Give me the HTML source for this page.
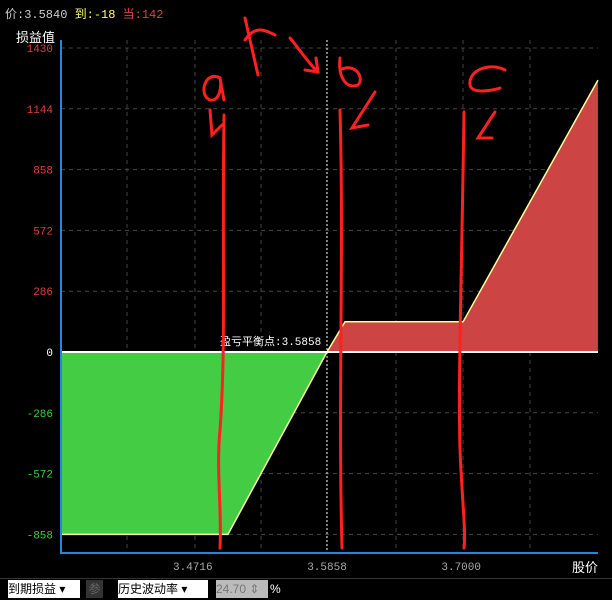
<!DOCTYPE html>
<html><head><meta charset="utf-8"><style>
body{margin:0;background:#000;width:612px;height:600px;overflow:hidden;font-family:"Liberation Mono","Noto Sans CJK SC",monospace;position:relative}
.t{position:absolute;font-size:12px;white-space:nowrap}
.ctl{position:absolute;top:580px;height:18px;font-size:12px;line-height:18px;font-family:"Liberation Sans","Noto Sans CJK SC",sans-serif}
</style></head><body>
<div class="t" style="left:5px;top:5px;color:#ccc">价:3.5840 <span style="color:#ffff66">到:-18</span> <span style="color:#e04040">当:142</span></div>
<div class="t" style="left:16px;top:27px;color:#fff;font-size:13px">损益值</div>
<div class="t" style="left:572px;top:557px;color:#fff;font-size:13px">股价</div>
<svg id="c" width="612" height="600" style="position:absolute;left:0;top:0"></svg>
<div style="position:absolute;left:0;top:578px;width:612px;height:1px;background:#333"></div>
<div class="ctl" style="left:8px;width:72px;background:#fff;color:#000">到期损益 ▾</div>
<div class="ctl" style="left:86px;width:17px;background:#333;color:#666;text-align:center">参</div>
<div class="ctl" style="left:118px;width:90px;background:#fff;color:#000">历史波动率 ▾</div>
<div class="ctl" style="left:216px;width:52px;background:#bbb;color:#777">24.70 ⇕</div>
<div class="ctl" style="left:270px;color:#fff">%</div>
<script>
const yTicks=[1430,1144,858,572,286,0,-286,-572,-858];
const xTicks=[3.4716,3.5858,3.7000];
const prices=[3.3594,3.5015,3.5858,3.6011,3.7016,3.8164];
const pnl=[-858,-858,0,142,142,1279];
const breakeven=3.5858;
const NS="http://www.w3.org/2000/svg",svg=document.getElementById('c');
const X=p=>327+(p-3.5858)*1175, Y=v=>352-v*0.2126;
function mk(t,a,name){const e=document.createElementNS(NS,t);for(const k in a)e.setAttribute(k,a[k]);


svg.appendChild(e);return e;}
[127,195,261,396,463,530].forEach(x=>mk('line',{x1:x,y1:40,x2:x,y2:553,stroke:'#444','stroke-dasharray':'4,4'},'v-grid'));
yTicks.forEach(v=>{if(v!==0)mk('line',{x1:61,y1:Y(v),x2:598,y2:Y(v),stroke:'#444','stroke-dasharray':'4,4'},'h-grid');
const t=mk('text',{x:53,y:Y(v)+4,'text-anchor':'end','font-size':11,fill:v>0?'#e04040':v<0?'#40cc40':'#fff','font-family':'Liberation Mono, monospace'},'y-tick-label');t.textContent=v;});
xTicks.forEach(p=>{const t=mk('text',{x:X(p),y:570,'text-anchor':'middle','font-size':11,fill:'#aaa','font-family':'Liberation Mono, monospace'},'x-tick-label');t.textContent=p.toFixed(4);});
let neg='M'+X(prices[0])+','+Y(0),pos='M'+X(breakeven)+','+Y(0);
prices.forEach((p,i)=>{if(pnl[i]<=0&&p<=breakeven)neg+=' L'+X(p)+','+Y(pnl[i]);if(p>=breakeven)pos+=' L'+X(p)+','+Y(pnl[i]);});
neg+=' Z';pos+=' L'+X(prices[prices.length-1])+','+Y(0)+' Z';
mk('path',{d:neg,fill:'#44cc44'},'loss-area');
mk('path',{d:pos,fill:'#cc4444'},'profit-area');
mk('polyline',{points:prices.map((p,i)=>X(p)+','+Y(pnl[i])).join(' '),fill:'none',stroke:'#ffff99','stroke-width':1.5},'payoff-line');
mk('line',{x1:61,y1:Y(0),x2:598,y2:Y(0),stroke:'#fff','stroke-width':2},'zero-line');
mk('line',{x1:X(breakeven),y1:40,x2:X(breakeven),y2:553,stroke:'#fff','stroke-dasharray':'2,2'},'breakeven-line');
const bt=mk('text',{x:220,y:345,'font-size':11,fill:'#fff','font-family':'Liberation Mono, Noto Sans CJK SC, monospace'},'breakeven-label');bt.textContent='盈亏平衡点:3.5858';
mk('polyline',{points:'61,40 61,553 598,553',fill:'none',stroke:'#1e88e5','stroke-width':2},'axes');
const ann=['M224,115 C222,250 226,350 220,430 C216,470 222,510 220,548','M340,110 C344,250 338,400 342,548','M464,112 C462,260 458,380 460,450 C462,500 466,530 464,548',
'M220,78 C205,70 198,95 210,100 C220,102 222,85 220,78 L224,100','M210,110 L212,135 L222,125',
'M245,18 L258,75 M245,40 C255,25 265,30 275,35','M290,38 C300,50 310,65 318,72 M305,70 L318,72 L316,58',
'M340,58 C338,75 345,90 358,85 C365,78 355,62 340,70','M375,92 L352,128 L368,125',
'M505,70 C490,62 468,70 470,85 C472,95 495,90 500,88','M495,112 L478,138 L492,138'];
ann.forEach(d=>mk('path',{d:d,fill:'none',stroke:'#ff2020','stroke-width':3,'stroke-linecap':'round'},'red-annotation'));
</script>
</body></html>
